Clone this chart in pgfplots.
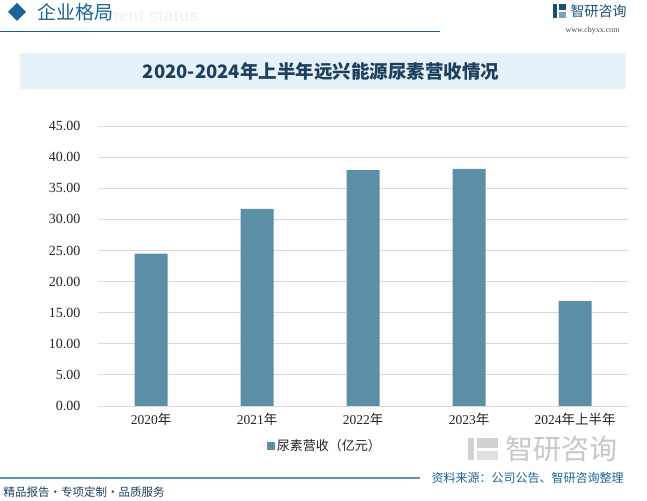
\documentclass[border=0pt]{standalone}
\usepackage{pgfplots}
\pgfplotsset{compat=1.18}
\usepackage{fontspec}
\setmainfont{Liberation Serif}
\setsansfont{Liberation Sans}
\newfontfamily\cjk{Noto Sans CJK SC}
\definecolor{barblue}{HTML}{5B8FA8}
\definecolor{hdrblue}{HTML}{1B6499}
\definecolor{bandbg}{HTML}{E6F2FA}
\definecolor{titleblue}{HTML}{1F3F5F}
\definecolor{gridgray}{HTML}{D9D9D9}
\definecolor{wmgray}{HTML}{F1F5F8}

\begin{document}
\begin{tikzpicture}[x=1pt,y=1pt]
\path[use as bounding box, fill=white] (0,0) rectangle (647,500);

% header
\fill[hdrblue] (17,479) -- (26,488) -- (17,497) -- (8,488) -- cycle;
\node[anchor=west, text=wmgray!80!black!20, font=\sffamily\bfseries\fontsize{17}{17}\selectfont] at (100,484) {ment status};
\node[anchor=west, text=hdrblue, font=\cjk\fontsize{19}{19}\selectfont] at (34,488) {企业格局};
\draw[hdrblue, line width=1pt] (0,468) -- (440,468);
% logo top right
\fill[hdrblue!80!black] (553,482) rectangle (557,496);
\fill[hdrblue!80!black] (559,490) rectangle (566,496);
\fill[hdrblue!60] (559,482) rectangle (566,488);
\node[anchor=west, text=hdrblue!80!black, font=\cjk\fontsize{14}{14}\selectfont] at (567,489) {智研咨询};
\node[anchor=west, text=black!70, font=\fontsize{8}{8}\selectfont] at (562,469) {www.chyxx.com};

% title band
\fill[bandbg] (20,411) rectangle (626,447);
\node[text=titleblue, font=\cjk\bfseries\fontsize{18.5}{18.5}\selectfont] at (321,429) {2020-2024年上半年远兴能源尿素营收情况};

\begin{axis}[
  at={(98pt,94pt)}, anchor=south west,
  scale only axis, width=530pt, height=280pt,
  xmin=-0.5, xmax=4.5, ymin=0, ymax=45,
  ytick={0,5,...,45},
  xtick={0,1,2,3,4},
  xticklabels={2020{\cjk 年},2021{\cjk 年},2022{\cjk 年},2023{\cjk 年},2024{\cjk 年上半年}},
  axis line style={draw=none},
  ymajorgrids=true,
  grid style={gridgray, line width=0.9pt},
  major tick length=0pt,
  tick style={draw=none},
  yticklabel style={font=\fontsize{14}{14}\selectfont, text=black!85, xshift=-14pt},
  xticklabel style={font=\fontsize{13.5}{13.5}\selectfont, text=black!85, yshift=-4pt},
  /pgf/number format/.cd, fixed, fixed zerofill, precision=2, assume math mode=true,
  /pgfplots/.cd,
  ybar, bar width=33pt,
  legend style={at={(0.428,-0.143)}, anchor=center, draw=none, fill=none,
    font=\cjk\fontsize{13}{13}\selectfont, text=black!85},
  legend image code/.code={\fill[barblue] (0pt,-4pt) rectangle (8pt,4pt);},
]
\addplot[fill=barblue, draw=none] coordinates {(0,24.5) (1,31.7) (2,37.9) (3,38.1) (4,16.9)};
\addlegendentry{尿素营收（亿元）}
\end{axis}

% bottom logo watermark
\fill[black!18] (468,40) rectangle (474,62);
\fill[black!18] (477,52) rectangle (498,62);
\fill[black!12] (477,40) rectangle (498,49);
\node[anchor=west, text=black!22, font=\cjk\fontsize{28}{28}\selectfont] at (502,51) {智研咨询};

% footer
\draw[hdrblue!70, line width=1.2pt] (0,22) -- (420,22);
\node[anchor=west, text=hdrblue, font=\cjk\fontsize{12}{12}\selectfont] at (428,22) {资料来源：公司公告、智研咨询整理};
\node[anchor=west, text=titleblue, font=\cjk\fontsize{11.5}{11.5}\selectfont] at (0,8) {精品报告·专项定制·品质服务};
\end{tikzpicture}
\end{document}
